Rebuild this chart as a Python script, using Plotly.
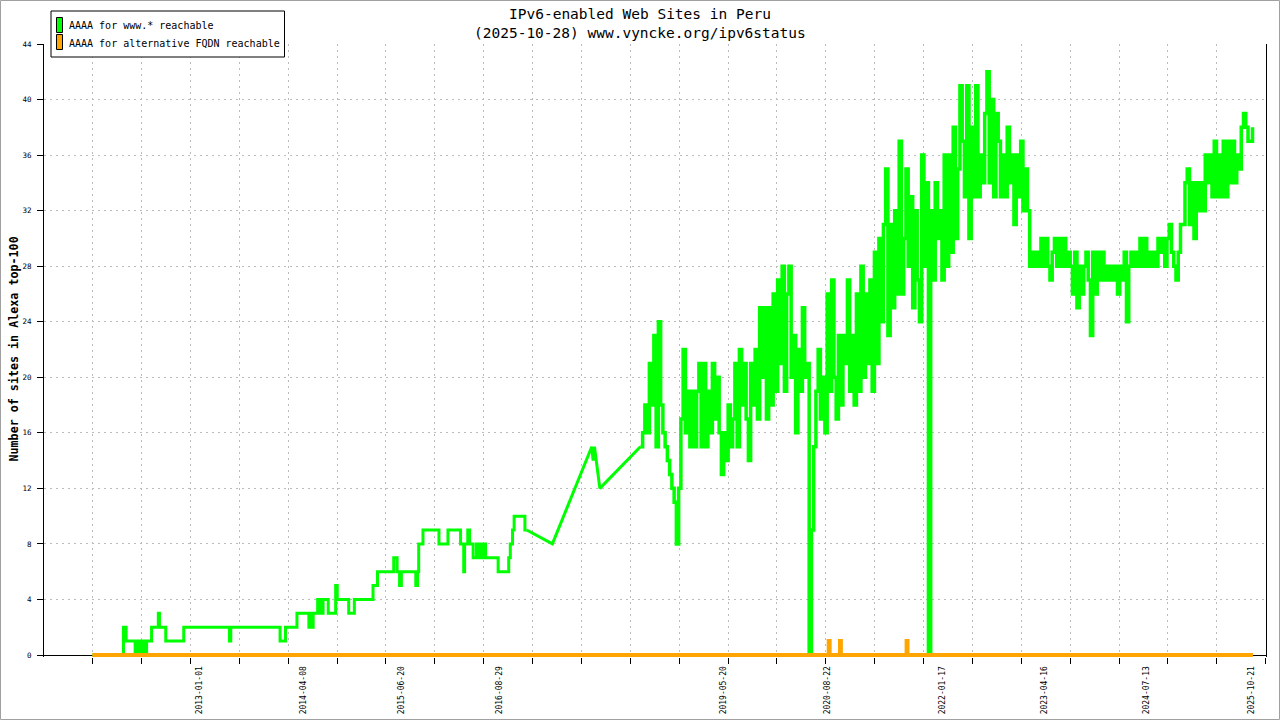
import pandas as pd
import plotly.graph_objects as go

# ---------------- texts ----------------
TITLE_1 = "IPv6-enabled Web Sites in Peru"
TITLE_2 = "(2025-10-28) www.vyncke.org/ipv6status"
Y_TITLE = "Number of sites in Alexa top-100"
LEGEND_WWW = "AAAA for www.* reachable"
LEGEND_ALT = "AAAA for alternative FQDN reachable"

# ---------------- ticks ----------------
tick_dates = ["2013-01-01", "2014-04-08", "2015-06-20", "2016-08-29", "2019-05-20",
              "2020-08-22", "2022-01-17", "2023-04-16", "2024-07-13", "2025-10-21"]
y_ticks = [0, 4, 8, 12, 16, 20, 24, 28, 32, 36, 40, 44]

# ---------------- www.* reachable: early period (change points, step) ----------------
early_dates = ["2011-09-15", "2012-01-31", "2012-02-12", "2012-03-23", "2012-04-05",
               "2012-04-10", "2012-04-21", "2012-04-30", "2012-05-13", "2012-06-04",
               "2012-07-04", "2012-07-09", "2012-08-06", "2012-10-25", "2013-05-16",
               "2013-05-22", "2013-12-27", "2014-01-20", "2014-03-12", "2014-05-04",
               "2014-05-08", "2014-05-19", "2014-05-23", "2014-06-12", "2014-06-23",
               "2014-07-06", "2014-07-29", "2014-08-31", "2014-09-07", "2014-10-28",
               "2014-11-22", "2015-02-13", "2015-03-05", "2015-05-16", "2015-05-31",
               "2015-06-11", "2015-06-19", "2015-08-22", "2015-08-30", "2015-09-04",
               "2015-09-23", "2015-12-03", "2016-01-12", "2016-03-08", "2016-03-22",
               "2016-03-26", "2016-04-09", "2016-04-17", "2016-05-03", "2016-05-18",
               "2016-05-25", "2016-06-03", "2016-06-10", "2016-06-20", "2016-06-27",
               "2016-08-22", "2016-10-08", "2016-10-15", "2016-10-25", "2016-11-01",
               "2016-12-19", "2016-12-27"]
early_vals = [0, 2, 1, 0, 1,
              0, 1, 0, 1, 2,
              3, 2, 1, 2, 1,
              2, 1, 2, 3, 2,
              3, 2, 3, 4, 3,
              4, 3, 5, 4, 3,
              4, 5, 6, 7, 6,
              5, 6, 5, 6, 8,
              9, 8, 9, 8, 6,
              8, 9, 8, 7, 8,
              7, 8, 7, 8, 7,
              6, 7, 8, 9, 10,
              9, 9]

# ---------------- www.* reachable: sparse period (linear) ----------------
gap_dates = ["2016-12-27", "2017-04-20", "2017-10-12", "2017-10-18", "2017-10-24",
             "2017-11-17", "2018-05-16"]
gap_vals = [9, 8, 15, 14, 15, 12, 15]

# ---------------- www.* reachable: dense period (10-day samples from 2018-05-16) ----------------
dense_start = "2018-05-16"
vals_a = [15, 16, 18, 16, 21, 18, 23, 15, 24, 18,
          16, 15, 14, 13, 12, 11, 8, 12, 17, 22,
          16, 19, 15, 19, 15, 19, 21, 15, 21, 15,
          19, 16, 21, 17, 20, 16, 13, 16, 14, 18,
          15, 17, 21, 15, 22, 18, 21, 17, 14, 21,
          18, 22, 17, 25, 20, 25, 17, 25, 18, 26,
          19, 27, 21, 28, 19, 26, 28, 20, 23, 16]
vals_b = [22, 19, 25, 20, 21, 0, 9, 15, 19, 22,
          17, 20, 16, 26, 19, 27, 20, 17, 23, 18,
          23, 21, 27, 19, 23, 18, 26, 19, 28, 20,
          26, 21, 27, 19, 29, 21, 30, 24, 31, 35,
          23, 31, 25, 32, 26, 37, 26, 30, 35, 28,
          33, 25, 32, 27, 24, 36, 28, 34, 0, 32,
          27, 34, 30, 32, 27, 36, 28, 36, 29, 38]
vals_c = [30, 35, 41, 37, 33, 41, 30, 38, 33, 41,
          33, 36, 34, 39, 42, 34, 40, 33, 39, 37,
          33, 36, 33, 38, 34, 36, 31, 36, 33, 37,
          32, 35, 32, 28, 29, 28, 29, 28, 30, 28,
          30, 28, 27, 29, 30, 28, 30, 28, 30, 28,
          29, 28, 26, 29, 25, 28, 26, 28, 29, 27,
          23, 29, 26, 29, 27, 29, 27, 28, 27, 28]
vals_d = [27, 28, 26, 28, 27, 29, 24, 28, 29, 28,
          29, 28, 30, 28, 30, 28, 29, 28, 29, 28,
          30, 29, 30, 28, 30, 31, 29, 28, 27, 29,
          31, 31, 34, 35, 31, 34, 30, 34, 32, 34,
          32, 36, 34, 36, 33, 37, 33, 36, 33, 37,
          33, 37, 34, 37, 34, 36, 35, 38, 39, 38,
          37, 37, 38]

# ---------------- alternative FQDN reachable (change points, step) ----------------
alt_dates = ["2011-09-15", "2020-08-30", "2020-09-03", "2020-10-19", "2020-10-23",
             "2021-08-11", "2021-08-15", "2025-10-28"]
alt_vals = [0, 1, 0, 1, 0, 1, 0, 0]

# ---------------- build ----------------
assert len(early_dates) == len(early_vals)
assert len(gap_dates) == len(gap_vals)
dense_vals = vals_a + vals_b + vals_c + vals_d
dense_dates = pd.date_range(dense_start, periods=len(dense_vals), freq="10D")

GREEN = "#00ff00"
ORANGE = "#ffa500"
FONT = "DejaVu Sans Mono"
GRID = "#bbbbbb"
GRIDDASH = "2px,4px"

fig = go.Figure()
fig.add_trace(go.Scatter(x=pd.to_datetime(early_dates), y=early_vals, mode="lines",
                         line=dict(color=GREEN, width=3, shape="hv"), showlegend=False,
                         hoverinfo="skip"))
fig.add_trace(go.Scatter(x=pd.to_datetime(gap_dates), y=gap_vals, mode="lines",
                         line=dict(color=GREEN, width=3), showlegend=False, hoverinfo="skip"))
fig.add_trace(go.Scatter(x=dense_dates, y=dense_vals, mode="lines",
                         line=dict(color=GREEN, width=3.5, shape="hv"), showlegend=False,
                         hoverinfo="skip"))
fig.add_trace(go.Scatter(x=pd.to_datetime(alt_dates), y=alt_vals, mode="lines",
                         line=dict(color=ORANGE, width=4, shape="hv"), showlegend=False,
                         hoverinfo="skip"))

# ---------------- layout geometry helpers (pixel -> paper) ----------------
W, H = 1280, 720
ML, MR, MT, MB = 44, 14, 44, 63
PW, PH = W - ML - MR, H - MT - MB


def pxx(x):
    return (x - ML) / PW


def pxy(y):
    return (H - MB - y) / PH


shapes = [
    # outer gray frame
    dict(type="rect", xref="paper", yref="paper", x0=pxx(0.5), x1=pxx(W - 0.5),
         y0=pxy(H - 0.5), y1=pxy(0.5), line=dict(color="#a0a0a0", width=1)),
    # legend box
    dict(type="rect", xref="paper", yref="paper", x0=pxx(51), x1=pxx(284.5),
         y0=pxy(57), y1=pxy(11), line=dict(color="black", width=1), fillcolor="white"),
    dict(type="rect", xref="paper", yref="paper", x0=pxx(56.5), x1=pxx(62.5),
         y0=pxy(32.5), y1=pxy(17.5), line=dict(color="black", width=1), fillcolor=GREEN),
    dict(type="rect", xref="paper", yref="paper", x0=pxx(56.5), x1=pxx(62.5),
         y0=pxy(49.5), y1=pxy(34.5), line=dict(color="black", width=1), fillcolor=ORANGE),
]

annotations = [
    dict(text=TITLE_1, xref="paper", yref="paper", x=pxx(640), y=pxy(13.5),
         xanchor="center", yanchor="middle", showarrow=False,
         font=dict(family=FONT, size=14.5, color="black")),
    dict(text=TITLE_2, xref="paper", yref="paper", x=pxx(640), y=pxy(33),
         xanchor="center", yanchor="middle", showarrow=False,
         font=dict(family=FONT, size=14.5, color="black")),
    dict(text="<b>" + Y_TITLE + "</b>", xref="paper", yref="paper", x=pxx(13.5), y=pxy(349),
         xanchor="center", yanchor="middle", showarrow=False, textangle=-90,
         font=dict(family=FONT, size=11.7, color="black")),
    dict(text=LEGEND_WWW, xref="paper", yref="paper", x=pxx(67), y=pxy(25.5),
         xanchor="left", yanchor="middle", showarrow=False,
         font=dict(family=FONT, size=10, color="black")),
    dict(text=LEGEND_ALT, xref="paper", yref="paper", x=pxx(67), y=pxy(43),
         xanchor="left", yanchor="middle", showarrow=False,
         font=dict(family=FONT, size=10, color="black")),
]

fig.update_layout(
    width=W, height=H,
    margin=dict(l=ML, r=MR, t=MT, b=MB, pad=0, autoexpand=False),
    paper_bgcolor="white", plot_bgcolor="white",
    showlegend=False,
    shapes=shapes,
    annotations=annotations,
    xaxis=dict(
        type="date", range=["2011-02-12", "2025-12-25"], automargin=False,
        tickmode="array", tickvals=tick_dates, ticktext=tick_dates,
        tickangle=-90, ticks="outside", ticklen=5, tickcolor="rgba(0,0,0,0)",
        showgrid=False, showline=False, zeroline=False,
        tickfont=dict(family=FONT, size=8, color="black"),
        minor=dict(tickmode="linear", tick0="2011-09-16", dtick=217.2 * 86400000,
                   ticks="outside", ticklen=6, tickcolor="black",
                   showgrid=True, gridcolor=GRID, griddash=GRIDDASH, gridwidth=1),
    ),
    yaxis=dict(
        range=[-0.144, 44], tickmode="array", tickvals=y_ticks, automargin=False,
        ticks="outside", ticklen=6, tickcolor="black",
        showgrid=True, gridcolor=GRID, griddash=GRIDDASH, gridwidth=1,
        showline=True, linecolor="black", linewidth=1, mirror=True,
        zeroline=True, zerolinecolor="black", zerolinewidth=1,
        tickfont=dict(family=FONT, size=7.5, color="black"),
        ticklabelstandoff=4,
    ),
)

fig.write_html(
    "out.html",
    config={"displayModeBar": False, "staticPlot": True},
    post_script="document.body.style.margin='0px';document.body.style.padding='0px';"
                "document.body.style.overflow='hidden';",
)
